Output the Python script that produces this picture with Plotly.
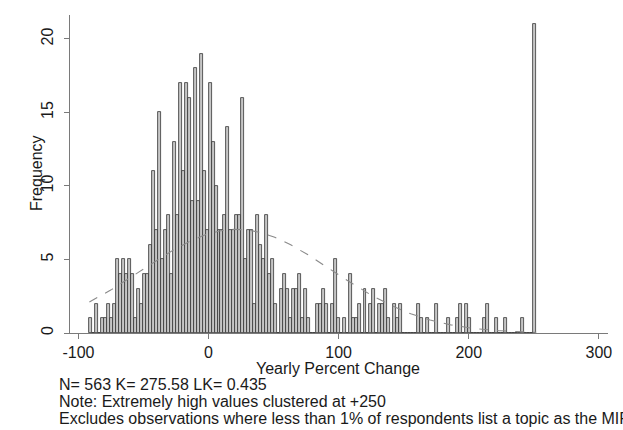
import numpy as np
import plotly.graph_objects as go

# ---- data ----
bin_start = -91.6
bin_width = 2.29
counts = [
    1, 0, 2, 0, 1, 1, 2, 1, 2, 5,
    4, 5, 4, 5, 4, 1, 3, 2, 4, 4,
    6, 11, 7, 15, 5, 7, 8, 4, 13, 8,
    17, 11, 17, 16, 9, 18, 9, 19, 11, 7,
    17, 13, 10, 7, 7, 8, 14, 7, 7, 8,
    8, 16, 5, 7, 7, 2, 8, 6, 5, 8,
    4, 5, 2, 0, 3, 4, 3, 1, 3, 3,
    4, 1, 3, 1, 0, 0, 2, 2, 3, 2,
    0, 2, 5, 1, 0, 1, 0, 4, 1, 1,
    2, 0, 3, 0, 2, 3, 0, 2, 2, 3,
    1, 0, 2, 1, 2, 0, 0, 0, 0, 0,
    2, 1, 0, 1, 0, 0, 2, 0, 0, 0,
    1, 0, 0, 1, 2, 0, 2, 1, 0, 0,
    0, 0, 1, 2, 0, 0, 1, 0, 0, 1,
    0, 0, 0, 0, 0, 1, 0, 0, 0, 21,
]
x_ticks = [-100, 0, 100, 200, 300]
y_ticks = [0, 5, 10, 15, 20]
x_title = "Yearly Percent Change"
y_title = "Frequency"
notes = [
    "N= 563 K= 275.58 LK= 0.435",
    "Note: Extremely high values clustered at +250",
    "Excludes observations where less than 1% of respondents list a topic as the MIP",
]

# ---- derived ----
counts_arr = np.array(counts, dtype=float)
centers = bin_start + bin_width * (np.arange(len(counts)) + 0.5)
n_obs = counts_arr.sum()
mean = (counts_arr * centers).sum() / n_obs
sd = np.sqrt((counts_arr * (centers - mean) ** 2).sum() / (n_obs - 1))
xc = np.linspace(bin_start, bin_start + bin_width * len(counts), 300)
yc = n_obs * bin_width * np.exp(-0.5 * ((xc - mean) / sd) ** 2) / (sd * np.sqrt(2 * np.pi))

FONT = "Arial, Liberation Sans, sans-serif"
TXT = "#1a1a1a"

# plot area in pixels: x 70..608, y 15..333
L, R, T, B = 70, 15, 15, 97
PW, PH = 623 - L - R, 430 - T - B


def px_x(px):
    return (px - L) / PW


def px_y(py):
    return (430 - B - py) / PH


fig = go.Figure()
fig.add_trace(go.Bar(
    x=centers, y=counts_arr, width=bin_width,
    marker=dict(color="#c6c6c6", line=dict(color="#333333", width=0.8)),
    showlegend=False, hoverinfo="skip",
))
fig.add_trace(go.Scatter(
    x=xc, y=yc, mode="lines",
    line=dict(color="#8a8a8a", width=1.1, dash="dash"),
    showlegend=False, hoverinfo="skip",
))

fig.update_layout(
    width=623, height=430,
    margin=dict(l=L, r=R, t=T, b=B),
    paper_bgcolor="white", plot_bgcolor="white",
    bargap=0,
    font=dict(family=FONT, size=16, color=TXT),
)
fig.update_xaxes(
    range=[-106.5, 307], tickvals=x_ticks, ticktext=[str(v) for v in x_ticks],
    ticks="outside", ticklen=5, tickcolor="#7a7a7a", tickwidth=1,
    showline=True, linecolor="#7a7a7a", linewidth=1,
    showgrid=False, zeroline=False,
    tickfont=dict(size=16),
)
fig.update_yaxes(
    range=[0, 21.63], tickvals=y_ticks, ticktext=[str(v) for v in y_ticks],
    ticks="outside", ticklen=5, tickcolor="#7a7a7a", tickwidth=1,
    showline=True, linecolor="#7a7a7a", linewidth=1,
    showgrid=False, zeroline=False, tickangle=-90,
    ticklabelstandoff=5,
    tickfont=dict(size=16),
)

# axis titles
fig.add_annotation(
    text=x_title, xref="paper", yref="paper",
    x=px_x(338), y=px_y(368), xanchor="center", yanchor="middle",
    showarrow=False, font=dict(family=FONT, size=16, color=TXT),
)
fig.add_annotation(
    text=y_title, xref="paper", yref="paper", textangle=-90,
    x=px_x(36), y=px_y(173), xanchor="center", yanchor="middle",
    showarrow=False, font=dict(family=FONT, size=16, color=TXT),
)

ys_px = [384, 401, 418]
for txt, py in zip(notes, ys_px):
    fig.add_annotation(
        text=txt, xref="paper", yref="paper",
        x=px_x(57), y=px_y(py),
        xanchor="left", yanchor="middle", showarrow=False,
        font=dict(family=FONT, size=16, color=TXT),
    )

fig.write_html("out.html")
